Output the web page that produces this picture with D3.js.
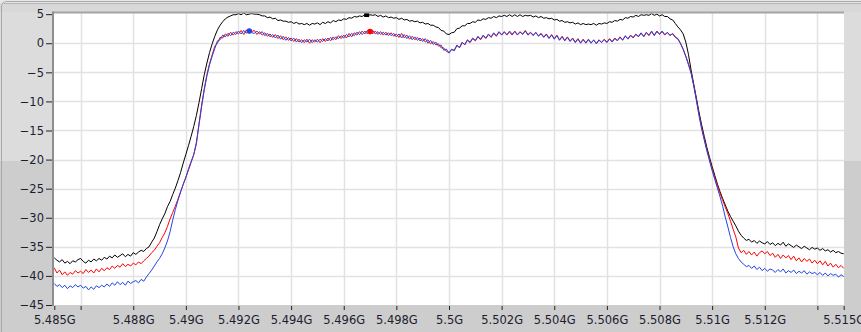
<!DOCTYPE html>
<html><head><meta charset="utf-8">
<script src="https://cdn.jsdelivr.net/npm/d3@7/dist/d3.min.js"></script>
<style>html,body{margin:0;padding:0;background:#fff;overflow:hidden}</style>
</head><body><svg id="c" width="861" height="332"></svg>
<script>
// sweep: 5.485 GHz .. 5.515 GHz, 301 points, 0.1 MHz apart
const freqStartGHz = 5.485;
const freqStepGHz = 0.0001;

const blackTrace = [
-36.9,-37.3,-37.6,-37.2,-37.8,-37.5,-37.9,-37.4,-37.6,-37.2,
-37.0,-37.5,-37.8,-37.3,-37.6,-37.1,-37.4,-37.0,-37.3,-36.8,
-37.1,-36.6,-36.9,-36.4,-36.8,-36.5,-36.2,-36.7,-36.3,-36.6,
-36.0,-36.3,-35.9,-35.6,-35.8,-35.3,-35.0,-34.2,-33.5,-32.4,
-31.2,-30.2,-29.3,-28.1,-27.2,-26.0,-24.9,-23.6,-22.2,-20.6,
-19.1,-17.6,-16.0,-14.3,-12.4,-10.2,-7.8,-5.4,-3.4,-1.6,
-0.1,1.2,2.3,3.1,3.7,4.2,4.5,4.7,4.9,4.9,
5.1,4.9,5.2,4.9,5.0,5.1,5.0,5.0,4.9,4.7,
4.7,4.4,4.5,4.2,4.3,3.9,4.0,3.8,3.8,3.6,
3.7,3.4,3.6,3.3,3.4,3.2,3.4,3.1,3.4,3.3,
3.5,3.2,3.6,3.4,3.7,3.5,3.9,3.7,4.0,3.9,
4.2,4.1,4.4,4.3,4.6,4.5,4.7,4.6,4.9,4.7,
4.9,4.8,4.9,4.6,4.8,4.5,4.7,4.4,4.5,4.3,
4.4,4.1,4.3,4.0,4.1,3.8,3.9,3.7,3.8,3.5,
3.6,3.3,3.4,3.1,3.1,2.8,2.7,2.2,2.1,1.6,
1.5,1.8,1.9,2.5,2.6,3.0,3.0,3.4,3.4,3.7,
3.6,4.0,3.9,4.2,4.1,4.4,4.3,4.6,4.4,4.7,
4.6,4.8,4.6,4.9,4.6,4.9,4.6,4.9,4.6,4.8,
4.7,4.8,4.5,4.7,4.4,4.6,4.3,4.4,4.2,4.3,
4.0,4.1,3.8,3.9,3.6,3.7,3.5,3.6,3.3,3.5,
3.2,3.4,3.2,3.3,3.2,3.4,3.1,3.4,3.3,3.5,
3.4,3.7,3.6,3.9,3.8,4.1,4.0,4.4,4.3,4.6,
4.5,4.8,4.6,4.9,4.8,4.9,4.8,5.1,4.8,5.0,
4.7,4.9,4.6,4.6,4.2,4.0,3.4,2.8,2.3,1.6,
0.2,-1.9,-4.6,-7.0,-9.4,-11.8,-14.0,-16.0,-17.9,-19.6,
-21.2,-22.7,-24.2,-25.5,-26.7,-27.8,-28.9,-29.8,-30.6,-31.4,
-32.3,-33.0,-33.5,-33.9,-33.7,-34.2,-33.9,-34.4,-34.0,-34.3,
-34.5,-34.1,-34.6,-34.3,-34.8,-34.4,-34.7,-34.2,-34.9,-34.5,
-34.8,-35.1,-34.7,-35.0,-35.3,-34.9,-35.2,-35.5,-35.1,-35.4,
-35.2,-35.6,-35.3,-35.7,-35.5,-35.9,-35.6,-36.0,-35.8,-36.1,
-36.2
];

const redTrace = [
-38.6,-39.5,-39.0,-39.8,-39.3,-39.9,-39.4,-39.7,-39.1,-39.5,
-39.2,-39.6,-38.9,-39.4,-39.0,-39.5,-38.8,-39.3,-38.7,-39.1,
-38.6,-38.9,-38.3,-38.7,-38.2,-38.5,-37.9,-38.4,-38.0,-38.3,
-37.8,-38.1,-37.6,-37.9,-37.4,-37.0,-36.6,-36.0,-35.6,-34.9,
-34.3,-33.4,-32.6,-31.5,-30.2,-29.1,-28.0,-26.8,-25.5,-24.3,
-23.0,-21.8,-20.5,-19.1,-17.3,-13.8,-10.6,-7.8,-5.4,-3.5,
-2.0,-0.5,0.0,1.0,0.9,1.6,1.2,1.9,1.4,2.0,
1.6,2.2,1.5,2.3,1.7,2.0,2.2,1.5,2.0,1.4,
1.8,1.2,1.6,1.0,1.5,0.8,1.3,0.6,1.1,0.5,
0.9,0.3,0.8,0.2,0.6,0.1,0.7,0.0,0.6,0.2,
0.7,0.1,0.8,0.3,0.9,0.4,1.1,0.6,1.3,0.8,
1.4,0.9,1.7,1.1,1.8,1.4,2.0,1.5,2.1,1.6,
2.3,1.6,2.1,1.5,2.0,1.4,1.9,1.3,1.8,1.2,
1.6,1.0,1.7,0.9,1.4,0.7,1.2,0.6,1.0,0.4,
0.8,0.2,0.6,-0.1,0.3,-0.3,-0.1,-0.8,-0.8,-1.4,
-1.6,-1.1,-1.2,-0.4,-0.7,0.2,-0.3,0.5,0.1,0.8,
0.4,1.1,0.6,1.3,0.8,1.5,1.0,1.7,1.2,1.9,
1.4,2.0,1.5,1.9,1.4,2.1,1.5,2.0,1.5,2.2,
1.5,1.9,1.4,1.8,1.3,1.7,1.1,1.6,0.9,1.5,
0.8,1.4,0.6,1.2,0.5,1.1,0.4,0.9,0.2,0.8,
0.1,0.7,0.0,0.6,0.1,0.5,0.0,0.6,0.1,0.7,
0.2,0.8,0.3,0.9,0.4,1.1,0.6,1.2,0.8,1.4,
0.9,1.6,1.1,1.7,1.2,1.9,1.3,2.0,1.4,2.1,
1.5,2.0,1.4,1.9,1.3,1.7,1.1,0.8,0.0,-1.0,
-2.2,-3.5,-5.0,-7.2,-9.6,-12.2,-14.5,-16.5,-18.3,-20.0,
-21.6,-23.1,-24.5,-25.8,-27.0,-28.2,-29.3,-30.6,-32.0,-33.3,
-35.2,-36.0,-35.6,-36.3,-35.8,-36.4,-35.9,-36.6,-36.0,-35.7,
-36.2,-35.8,-36.5,-36.1,-36.8,-36.3,-37.0,-36.4,-36.9,-36.5,
-37.2,-36.6,-37.4,-36.9,-37.6,-37.0,-37.5,-37.1,-37.8,-37.3,
-37.9,-37.4,-38.1,-37.5,-38.3,-37.8,-38.5,-38.0,-38.6,-38.2,
-38.7
];

const blueTrace = [
-41.3,-41.8,-41.5,-42.0,-41.6,-42.2,-41.7,-42.0,-41.5,-41.9,
-41.6,-42.1,-41.8,-42.4,-41.9,-42.3,-41.7,-42.0,-41.6,-41.9,
-41.4,-41.8,-41.2,-41.6,-41.0,-41.5,-41.1,-41.6,-40.9,-41.3,
-41.0,-40.8,-41.2,-40.6,-40.9,-40.2,-39.6,-39.0,-38.3,-37.6,
-37.0,-36.2,-35.2,-34.0,-32.4,-30.4,-28.6,-27.0,-25.6,-24.2,
-23.1,-21.6,-20.3,-19.2,-17.0,-14.0,-10.9,-8.0,-5.6,-3.7,
-2.2,-0.9,0.4,0.6,1.4,1.1,1.7,1.3,1.9,1.5,
2.1,1.6,2.2,1.7,2.3,1.8,1.7,2.1,1.6,2.0,
1.3,1.7,1.1,1.5,0.9,1.4,0.7,1.2,0.5,1.0,
0.4,0.9,0.2,0.7,0.1,0.6,0.2,0.7,0.1,0.6,
0.2,0.7,0.3,0.8,0.4,1.0,0.6,1.1,0.8,1.3,
0.9,1.5,1.1,1.7,1.3,1.9,1.5,2.1,1.6,2.2,
1.7,2.2,1.6,2.0,1.5,1.9,1.4,1.8,1.3,1.7,
1.1,1.6,0.9,1.5,0.8,1.3,0.6,1.1,0.5,0.9,
0.3,0.8,0.0,0.5,-0.2,0.2,-0.5,-0.3,-1.2,-1.0,
-1.7,-1.0,-1.3,-0.3,-0.8,0.1,-0.2,0.6,0.2,0.9,
0.5,1.2,0.7,1.4,0.9,1.6,1.1,1.8,1.3,2.0,
1.5,1.9,1.4,2.1,1.6,2.0,1.4,1.9,1.6,2.1,
1.4,1.8,1.3,1.9,1.2,1.6,1.0,1.5,0.8,1.4,
0.7,1.3,0.5,1.1,0.4,1.0,0.3,0.8,0.1,0.7,
0.0,0.6,0.1,0.7,0.0,0.6,-0.1,0.5,0.2,0.6,
0.1,0.7,0.2,0.8,0.5,1.0,0.5,1.3,0.7,1.3,
1.0,1.5,1.2,1.8,1.1,1.8,1.4,2.1,1.3,2.0,
1.6,2.1,1.5,1.8,1.4,1.6,1.0,0.7,-0.1,-1.1,
-2.3,-3.7,-5.2,-7.3,-9.8,-12.4,-14.7,-16.6,-18.5,-20.2,
-21.9,-23.4,-24.9,-26.4,-28.0,-29.9,-31.6,-33.4,-35.0,-36.2,
-37.0,-37.6,-38.0,-38.4,-38.2,-38.7,-38.3,-38.9,-38.5,-39.1,
-38.7,-39.2,-38.8,-39.0,-39.4,-38.9,-39.3,-38.8,-39.5,-39.1,
-39.4,-39.0,-39.6,-39.2,-39.5,-39.1,-39.7,-39.3,-39.6,-39.4,
-39.8,-39.4,-39.9,-39.5,-40.0,-39.6,-39.9,-39.7,-40.2,-39.8,
-40.1
];

const seriesNames = ["black", "red", "blue"];
const seriesColors = ["#000000", "#ff0000", "#1f45e6"];

const yTickValues = [5, 0, -5, -10, -15, -20, -25, -30, -35, -40, -45];
const xTickValues = [5.485, 5.486, 5.488, 5.490, 5.492, 5.494, 5.496, 5.498, 5.500, 5.502, 5.504, 5.506, 5.508, 5.510, 5.512, 5.514, 5.515];
const xTickLabels = ["5.485G", "", "5.488G", "5.49G", "5.492G", "5.494G", "5.496G", "5.498G", "5.5G", "5.502G", "5.504G", "5.506G", "5.508G", "5.51G", "5.512G", "", "5.515G"];

// cursor markers
const markerFreqs = [5.49687, 5.49241, 5.49700];
const markerValues = [4.85, 2.1, 2.0];
const markerSeries = ["black", "blue", "red"];

const svg = d3.select("#c");
const W = 861, H = 332;
const L = 53.5, R = 844, T = 13, B = 305;

// frame
svg.append("rect").attr("x",0).attr("y",0).attr("width",W).attr("height",H).attr("fill","#dcdcdc");
svg.append("rect").attr("x",0).attr("y",161).attr("width",W).attr("height",H-161).attr("fill","#cdcdcd");
svg.append("rect").attr("x",0).attr("y",0).attr("width",W).attr("height",12).attr("fill","#d8d8d8");
svg.append("rect").attr("x",0).attr("y",0).attr("width",W).attr("height",3).attr("fill","#e8e8e8");
svg.append("line").attr("x1",4).attr("x2",W).attr("y1",3.5).attr("y2",3.5).attr("stroke","#b4b4b4");
svg.append("path").attr("d",`M1.5,${H} L1.5,7 Q1.5,1.5 7,1.5 L${W},1.5`).attr("fill","none").attr("stroke","#a8a8a8");

const x = d3.scaleLinear().domain([5.485, 5.515]).range([54.3, 843.7]);
const y = d3.scaleLinear().domain([-45, 5.2]).range([B, T]);

svg.append("rect").attr("x",L).attr("y",T).attr("width",R-L).attr("height",B-T).attr("fill","#ffffff");

// grid
const g = svg.append("g");
g.selectAll("line.gx").data(xTickValues.slice(1,-1)).join("line")
  .attr("x1",d=>Math.round(x(d))+0.5).attr("x2",d=>Math.round(x(d))+0.5)
  .attr("y1",T).attr("y2",B).attr("stroke","#e2e2e2").attr("stroke-width",1.5);
g.selectAll("line.gy").data(yTickValues.slice(1,-1)).join("line")
  .attr("x1",L).attr("x2",R)
  .attr("y1",d=>Math.round(y(d))+0.5).attr("y2",d=>Math.round(y(d))+0.5).attr("stroke","#e2e2e2").attr("stroke-width",1.5);

// traces
const data = [blackTrace, redTrace, blueTrace];
const line = d3.line().x((d,i)=>x(freqStartGHz + i*freqStepGHz)).y(d=>y(d));
const clip = svg.append("clipPath").attr("id","pc").append("rect").attr("x",L).attr("y",T).attr("width",R-L).attr("height",B-T);
const traces = svg.append("g").attr("clip-path","url(#pc)");
data.forEach((arr, k) => {
  traces.append("path").datum(arr).attr("d", line).attr("fill","none")
    .attr("stroke", seriesColors[k]).attr("stroke-width", 1).attr("stroke-linejoin","round");
});

// markers
markerFreqs.forEach((f, k) => {
  const c = seriesColors[seriesNames.indexOf(markerSeries[k])];
  if (markerSeries[k] === "black") {
    traces.append("rect").attr("x", x(f)-2.5).attr("y", y(markerValues[k])-2).attr("width",5).attr("height",4).attr("fill",c);
  } else {
    traces.append("circle").attr("cx", x(f)).attr("cy", y(markerValues[k])).attr("r",2.8).attr("fill",c);
  }
});

// borders
svg.append("line").attr("x1",L-1).attr("x2",R).attr("y1",T-0.5).attr("y2",T-0.5).attr("stroke","#a4a4a4").attr("stroke-width",2);
svg.append("line").attr("x1",L-0.5).attr("x2",L-0.5).attr("y1",T-1.5).attr("y2",B+1).attr("stroke","#8e8e8e").attr("stroke-width",2);

// axes
const fontFam = "'DejaVu Sans', Verdana, sans-serif";
const yAxis = d3.axisLeft(y).tickValues(yTickValues).tickSize(6).tickPadding(2).tickFormat(d3.format("d"));
const ya = svg.append("g").attr("transform",`translate(${L-1.5},0)`).call(yAxis);
ya.select(".domain").remove();
ya.selectAll("line").attr("stroke","#222");
ya.selectAll("text").attr("fill","#1c1c30").style("font-family",fontFam).style("font-size","11.5px");

const xAxis = d3.axisBottom(x).tickValues(xTickValues).tickSize(4).tickPadding(6)
  .tickFormat((d,i)=>xTickLabels[i]);
const xa = svg.append("g").attr("transform",`translate(0,${B+1})`).call(xAxis);
xa.select(".domain").remove();
xa.selectAll("line").attr("stroke","#222");
xa.selectAll("text").attr("fill","#1c1c30").style("font-family",fontFam).style("font-size","11.5px");
</script>
</body></html>
